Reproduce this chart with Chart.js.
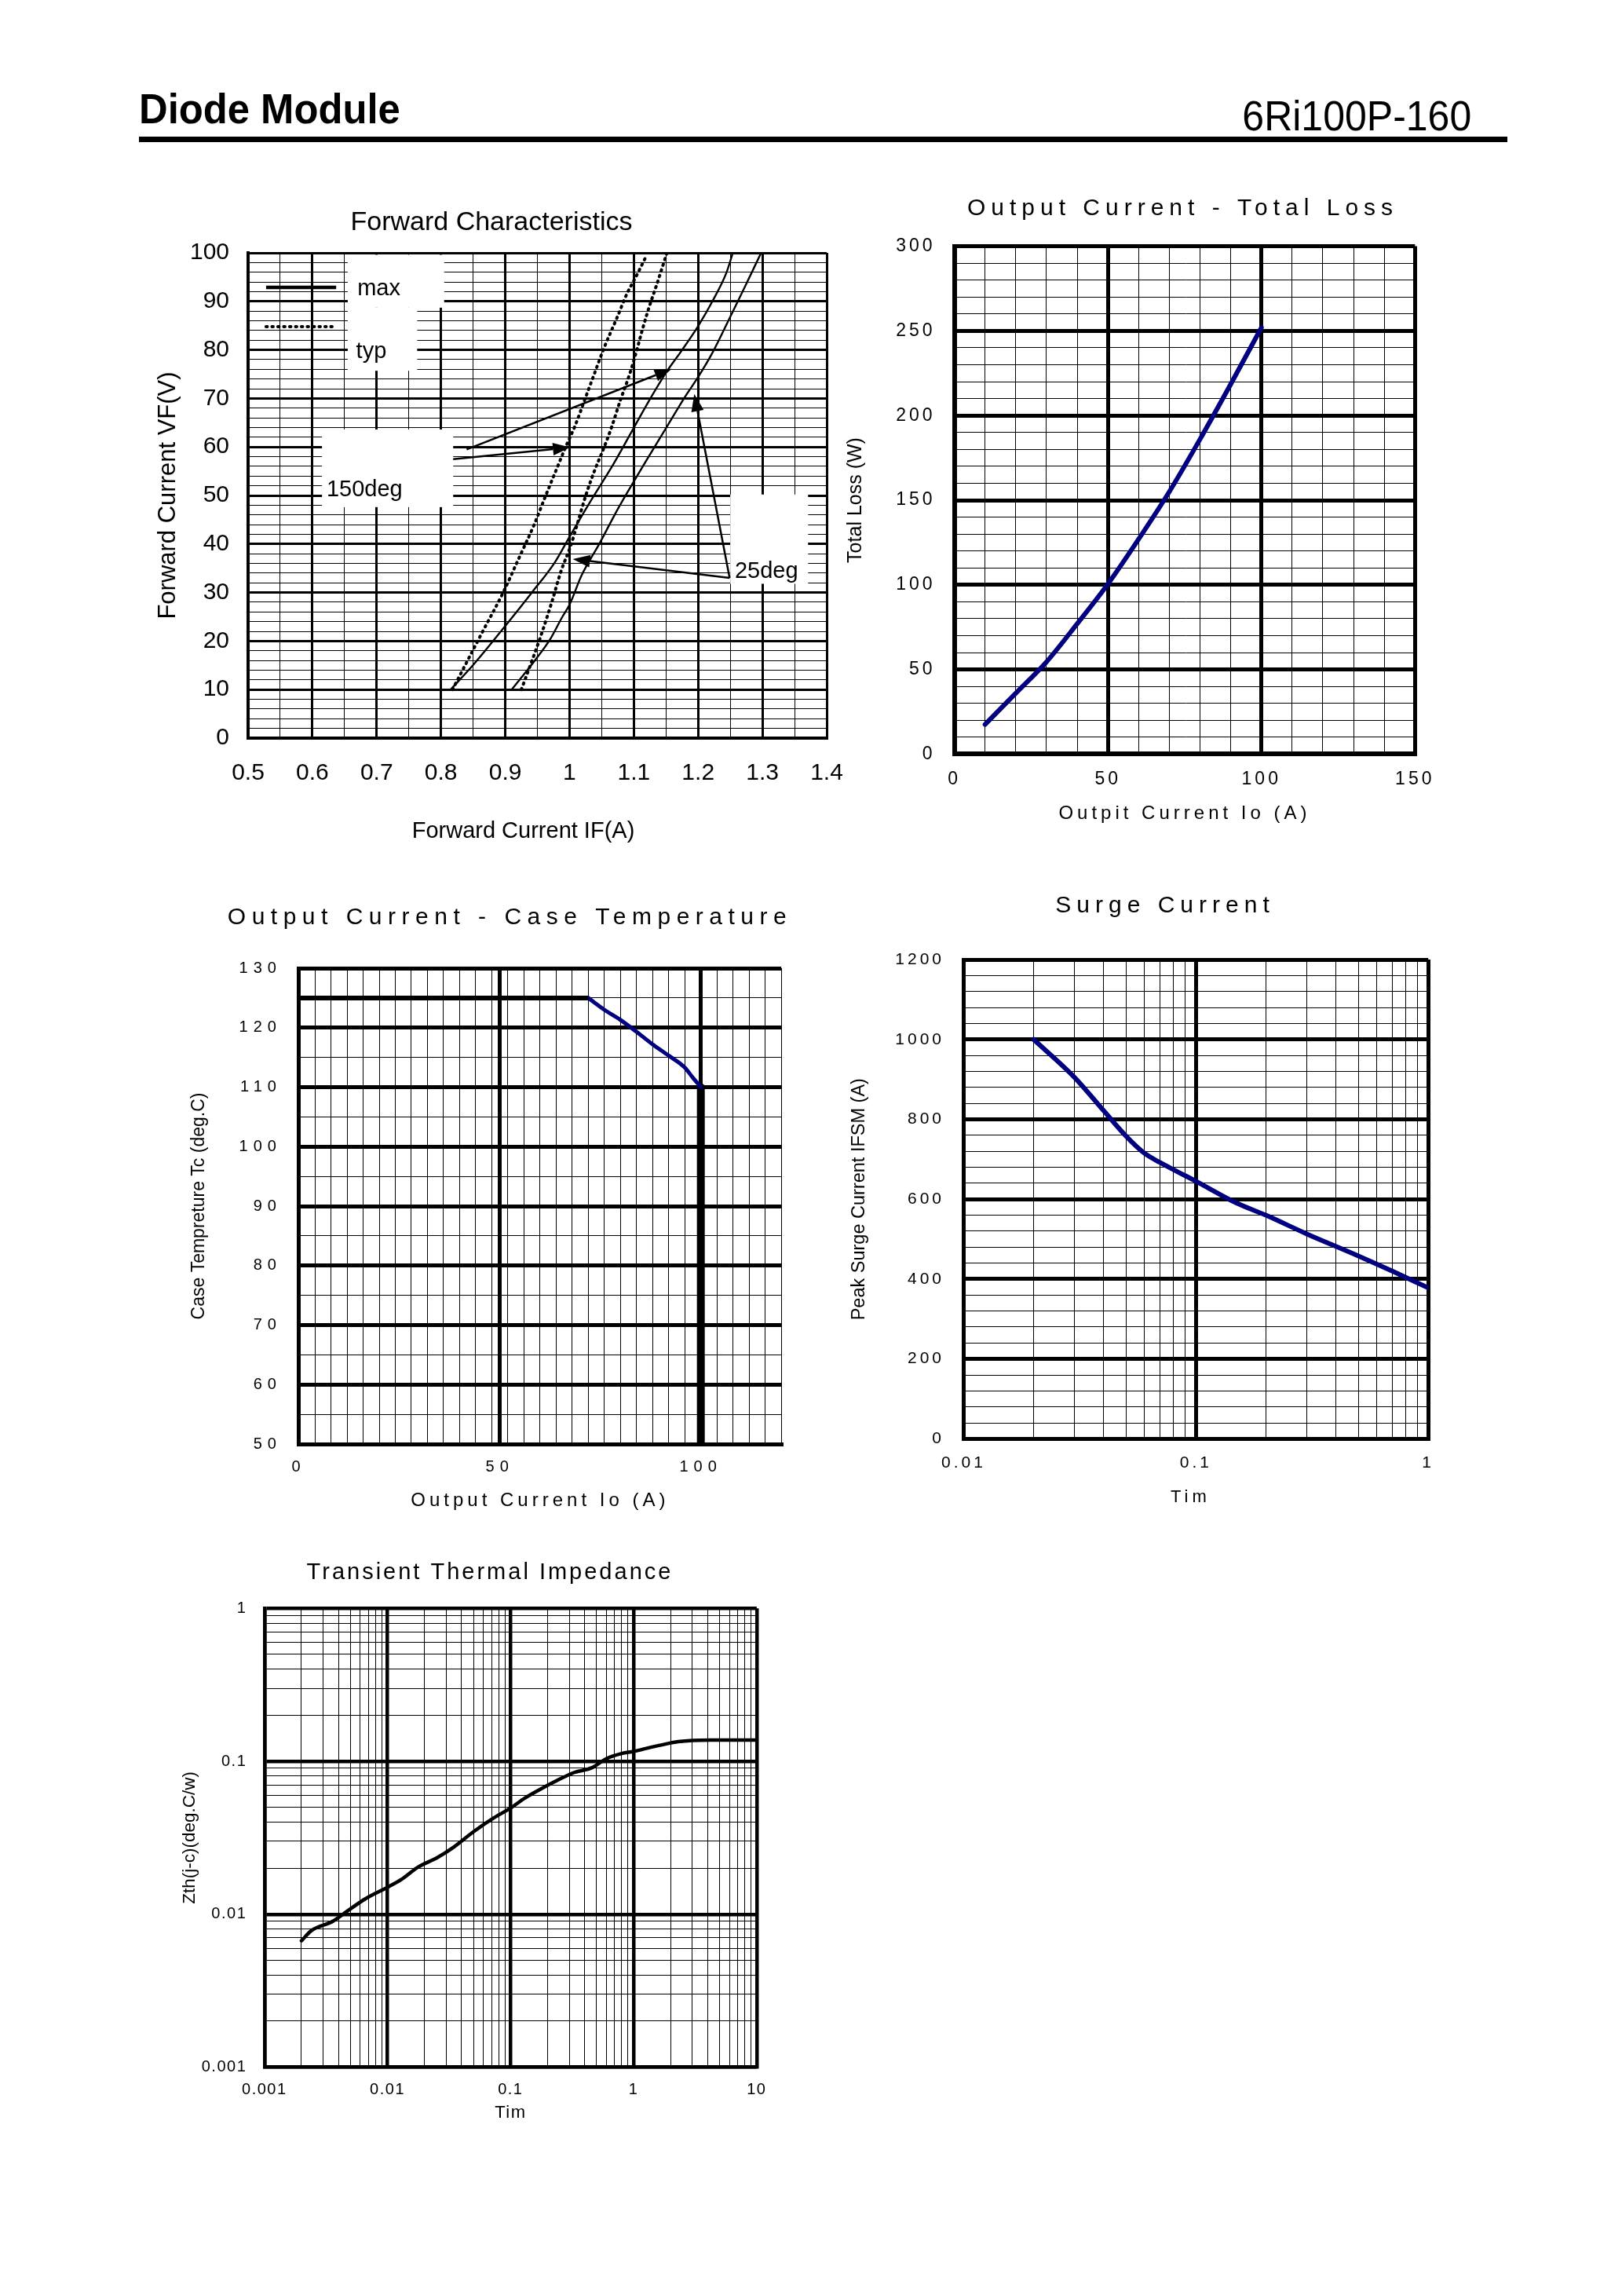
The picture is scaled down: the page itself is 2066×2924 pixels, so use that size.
<!DOCTYPE html>
<html>
<head>
<meta charset="utf-8">
<script src="https://cdn.jsdelivr.net/npm/chart.js"></script>
<style>
  body { margin: 0; width: 2066px; height: 2924px; background: #fff; position: relative; font-family: 'Liberation Sans', Arial, sans-serif; }
  .head { position: absolute; font-size: 54px; line-height: 54px; white-space: nowrap; color: #000; }
  #head-left { left: 177px; top: 111px; font-weight: bold; transform: scaleX(0.94); transform-origin: left; }
  #head-right { right: 192px; top: 120px; transform: scaleX(0.926); transform-origin: right; }
  #rule { position: absolute; left: 177px; top: 174px; width: 1743px; height: 7px; background: #000; }
  canvas { position: absolute; }
</style>
</head>
<body>
<div id="head-left" class="head">Diode Module</div>
<div id="head-right" class="head">6Ri100P-160</div>
<div id="rule"></div>
<canvas id="fwd"></canvas>
<canvas id="loss"></canvas>
<canvas id="temp"></canvas>
<canvas id="surge"></canvas>
<canvas id="zth"></canvas>
<script>
// ---- data ----
// Forward Characteristics
const fwdXLabels = ['0.5', '0.6', '0.7', '0.8', '0.9', '1', '1.1', '1.2', '1.3', '1.4'];
const fwdYLabels = ['0', '10', '20', '30', '40', '50', '60', '70', '80', '90', '100'];
const fwdMax150X = [0.815, 0.851, 0.900, 0.942, 0.977, 1.000, 1.033, 1.068, 1.096, 1.124, 1.152, 1.173, 1.200, 1.223, 1.244, 1.254];
const fwdMax150Y = [10, 15.2, 23.1, 30.1, 36.2, 41.5, 48.9, 56.4, 63.0, 69.6, 75.7, 79.6, 84.9, 90.2, 95.9, 100];
const fwdTyp150X = [0.818, 0.865, 0.896, 0.921, 0.945, 0.963, 0.980, 0.994, 1.009, 1.023, 1.037, 1.054, 1.075, 1.089, 1.103, 1.120];
const fwdTyp150Y = [10, 22, 29.8, 37, 44, 50, 55.5, 60, 64.5, 69.5, 74.5, 80.5, 87, 91.5, 95, 99.5];
const fwdMax25X = [0.910, 0.949, 0.970, 0.988, 1.000, 1.019, 1.047, 1.075, 1.100, 1.124, 1.152, 1.180, 1.200, 1.223, 1.251, 1.272, 1.298];
const fwdMax25Y = [10, 16.5, 20.4, 24.8, 27.5, 33.6, 40.2, 47.2, 52.9, 58.2, 64.3, 70.4, 74.4, 79.6, 87.1, 92.8, 100];
const fwdTyp25X = [0.925, 0.942, 0.956, 0.973, 0.987, 1.002, 1.012, 1.026, 1.040, 1.051, 1.065, 1.079, 1.093, 1.103, 1.114, 1.124, 1.135, 1.151];
const fwdTyp25Y = [10, 16.1, 21.3, 28.3, 34.5, 39.7, 44.1, 50.3, 55.5, 59, 63.9, 69.6, 74.8, 79.2, 84.5, 88.9, 93.2, 99.8];
// key samples, label boxes and arrows, in axis units
const fwdKeyX = [0.528, 0.637];
const fwdKeyY = { max: 92.9, typ: 84.8 };
const fwdMasks = [[0.655, 0.805, 88.7, 99.6], [0.655, 0.763, 75.7, 88.7], [0.615, 0.819, 47.6, 63.6], [1.25, 1.371, 31.8, 50.2]];
const fwdLabels = [['max', 0.670, 92.6], ['typ', 0.668, 79.6], ['150deg', 0.622, 51.1], ['25deg', 1.257, 34.3]];
const fwdArrows = [[0.840, 59.5, 1.159, 76.1], [0.819, 57.5, 1.001, 59.9], [1.249, 33.0, 1.005, 36.9], [1.249, 33.0, 1.194, 70.9]];

// Output Current - Total Loss
const lossXLabels = ['0', '50', '100', '150'];
const lossYLabels = ['0', '50', '100', '150', '200', '250', '300'];
const lossCurrent = [10, 20, 30, 40, 50, 60, 70, 80, 90, 100];
const lossWatts = [17.5, 36, 54.5, 77, 100.5, 127, 155, 186, 218.5, 252];

// Output Current - Case Temperature
const tempXLabels = ['0', '50', '100'];
const tempYLabels = ['50', '60', '70', '80', '90', '100', '110', '120', '130'];
const tempFlatX = [0, 72];
const tempFlatY = [125, 125];
const tempCurveX = [72, 76, 80, 84, 88, 92, 96, 98, 100];
const tempCurveY = [125, 123, 121.3, 119.3, 117.2, 115.3, 113.3, 111.6, 110];
const tempDropX = [100, 100];
const tempDropY = [110, 50];

// Surge Current
const surgeXLabels = ['0.01', '0.1', '1'];
const surgeYLabels = ['0', '200', '400', '600', '800', '1000', '1200'];
const surgeTime = [0.02, 0.03, 0.04, 0.05, 0.06, 0.07, 0.08, 0.1, 0.15, 0.2, 0.3, 0.5, 0.7, 1];
const surgeAmps = [1000, 905, 822, 758, 715, 692, 674, 645, 590, 560, 513, 458, 420, 378];

// Transient Thermal Impedance
const zthXLabels = ['0.001', '0.01', '0.1', '1', '10'];
const zthYLabels = ['0.001', '0.01', '0.1', '1'];
const zthTime = [0.002, 0.0024, 0.0036, 0.0045, 0.0066, 0.01, 0.013, 0.0175, 0.0255, 0.034, 0.05, 0.073, 0.1, 0.13, 0.18, 0.24, 0.33, 0.46, 0.6, 0.8, 1, 1.25, 1.7, 2.3, 4.2, 10];
const zthValue = [0.0067, 0.0078, 0.009, 0.0102, 0.0126, 0.015, 0.0169, 0.0202, 0.0235, 0.0272, 0.0346, 0.0426, 0.0494, 0.0573, 0.0665, 0.075, 0.0845, 0.0908, 0.104, 0.1124, 0.1159, 0.121, 0.128, 0.1344, 0.1377, 0.1377];

// ---- helpers ----
Chart.defaults.font.family = "'Liberation Sans', Arial, Helvetica, sans-serif";
Chart.defaults.color = '#000';
const NAVY = '#000080';

function steps(min, max, step) {
  const out = [];
  const n = Math.round((max - min) / step);
  for (let i = 0; i <= n; i++) out.push(+(min + i * step).toFixed(6));
  return out;
}
function logSteps(min, max) {
  const out = [];
  for (let e = Math.round(Math.log10(min)); e < Math.round(Math.log10(max)); e++) {
    for (let k = 1; k < 10; k++) out.push(+(k * Math.pow(10, e)).toPrecision(6));
  }
  out.push(max);
  return out;
}
function labelFor(v, labels) {
  const t = labels.find(s => Math.abs(parseFloat(s) - v) <= 1e-9 + 1e-6 * Math.abs(v));
  return t === undefined ? '' : t;
}
function line(xs, ys, color, width, more) {
  return Object.assign({
    data: xs.map((x, i) => ({ x, y: ys[i] })),
    showLine: true, pointRadius: 0,
    borderColor: color, backgroundColor: color, borderWidth: width,
    borderCapStyle: 'round', borderJoinStyle: 'round',
    cubicInterpolationMode: 'monotone'
  }, more);
}

// canvas letter spacing (the sheet uses wide tracking on several charts),
// plus an optional sideways nudge
function spaced(obj, name, px, dx) {
  if (!obj || obj['__ls' + name]) return;
  const orig = obj[name];
  obj[name] = function () {
    const ctx = this.ctx;
    ctx.save();
    ctx.letterSpacing = (px || 0) + 'px';
    if (dx) ctx.translate(dx, 0);
    const r = orig.apply(this, arguments);
    ctx.restore();
    return r;
  };
  obj['__ls' + name] = true;
}
const spacing = {
  id: 'spacing',
  afterLayout(chart, args, o) {
    spaced(chart.titleBlock, 'draw', o.title);
    spaced(chart.scales.x, 'drawLabels', o.ticks);
    spaced(chart.scales.y, 'drawLabels', o.ticks);
    spaced(chart.scales.x, 'drawTitle', o.xTitle, o.xShift);
  }
};

// size and place a canvas so the plot area lands where it is on the sheet
function place(id, fr) {
  const [L, T, R, B] = fr.area;
  const yLine = fr.yTitle.size * 1.2;
  let left = Math.round(fr.yTitle.cx - yLine / 2 - 6);
  let right = Math.round(2 * fr.title.cx - left);
  if (right < R + 55) { right = Math.round(R + 55); left = Math.round(2 * fr.title.cx - right); }
  const tLine = fr.title.size * 1.2;
  const top = Math.round(fr.title.cy - 10 - tLine / 2);
  const bottom = Math.round(fr.xTitle.cy + fr.xTitle.size * 0.6);
  const cv = document.getElementById(id);
  cv.width = right - left;
  cv.height = bottom - top;
  cv.style.left = left + 'px';
  cv.style.top = top + 'px';
  const padTop = fr.title.cy - tLine / 2 - top;
  return {
    titlePad: { top: padTop, bottom: T - top - tLine - padTop },
    yWidth: L - left,
    yTitlePad: fr.yTitle.cx - left - yLine / 2,
    xHeight: bottom - B,
    rightWidth: right - R
  };
}

function build(id, fr, xs, ys, datasets, extra) {
  const g = place(id, fr);
  const axis = (s, pos, fit, pad, title, tPad) => ({
    type: s.type || 'linear', position: pos, min: s.min, max: s.max,
    afterBuildTicks: sc => { sc.ticks = s.values.map(v => ({ value: v, strong: labelFor(v, s.labels) !== '' })); },
    afterFit: fit,
    grid: { color: '#000', drawTicks: false, lineWidth: c => (c.tick && c.tick.strong ? fr.thick : 1) },
    border: { display: true, color: '#000', width: fr.edge },
    ticks: { font: { size: fr.tick.size }, padding: pad, autoSkip: false, maxRotation: 0, minRotation: 0,
             callback: v => labelFor(v, s.labels) },
    title: { display: true, text: title.text, font: { size: title.size, lineHeight: 1.2 }, padding: tPad }
  });
  return new Chart(document.getElementById(id), {
    type: 'scatter',
    data: { datasets },
    options: {
      responsive: false, animation: false, events: [],
      plugins: {
        legend: { display: false },
        tooltip: { enabled: false },
        title: { display: true, text: fr.title.text, font: { size: fr.title.size, weight: 'normal', lineHeight: 1.2 }, padding: g.titlePad },
        spacing: { title: fr.title.ls, ticks: fr.tick.ls, xTitle: fr.xTitle.ls, xShift: fr.xTitle.dx || 0 }
      },
      scales: {
        x: axis(xs, 'bottom', sc => { sc.height = g.xHeight; }, fr.tick.xPad, fr.xTitle, { top: 0, bottom: 0 }),
        y: axis(ys, 'left', sc => { sc.width = g.yWidth; }, fr.tick.yPad, fr.yTitle, { top: g.yTitlePad, bottom: 0 }),
        gap: { type: 'linear', position: 'right', grid: { display: false }, border: { display: false },
               ticks: { display: false }, afterFit: sc => { sc.width = g.rightWidth; } }
      }
    },
    plugins: [spacing].concat(extra || [])
  });
}

// label boxes, notes and arrows on the forward chart
const fwdNotes = {
  id: 'fwdNotes',
  beforeDatasetsDraw(chart) {
    const { ctx, scales: { x, y } } = chart;
    ctx.save();
    ctx.fillStyle = '#fff';
    fwdMasks.forEach(([x0, x1, y0, y1]) => {
      const l = x.getPixelForValue(x0), r = x.getPixelForValue(x1);
      const t = y.getPixelForValue(y1), b = y.getPixelForValue(y0);
      ctx.fillRect(l, t, r - l, b - t);
    });
    ctx.restore();
  },
  afterDatasetsDraw(chart) {
    const { ctx, scales: { x, y } } = chart;
    ctx.save();
    ctx.fillStyle = '#000';
    ctx.strokeStyle = '#000';
    ctx.font = "29px 'Liberation Sans', Arial, sans-serif";
    ctx.textBaseline = 'middle';
    fwdLabels.forEach(([text, vx, vy]) => ctx.fillText(text, x.getPixelForValue(vx), y.getPixelForValue(vy)));
    ctx.lineWidth = 2.5;
    fwdArrows.forEach(([x0, y0, x1, y1]) => {
      const ax = x.getPixelForValue(x0), ay = y.getPixelForValue(y0);
      const bx = x.getPixelForValue(x1), by = y.getPixelForValue(y1);
      const a = Math.atan2(by - ay, bx - ax);
      const hx = bx - 22 * Math.cos(a), hy = by - 22 * Math.sin(a);
      ctx.beginPath(); ctx.moveTo(ax, ay); ctx.lineTo(hx, hy); ctx.stroke();
      ctx.beginPath();
      ctx.moveTo(bx, by);
      ctx.lineTo(hx + 8 * Math.sin(a), hy - 8 * Math.cos(a));
      ctx.lineTo(hx - 8 * Math.sin(a), hy + 8 * Math.cos(a));
      ctx.closePath(); ctx.fill();
    });
    ctx.restore();
  }
};

const dotted = { borderDash: [1.5, 6], borderCapStyle: 'round' };

// ---- charts ----
build('fwd', {
  area: [316, 322, 1053, 940],
  title: { text: 'Forward Characteristics', size: 34, cx: 626, cy: 283.6, ls: 0 },
  xTitle: { text: 'Forward Current IF(A)', size: 29, cy: 1059, ls: 0, dx: -18 },
  yTitle: { text: 'Forward Current VF(V)', size: 31, cx: 214 },
  tick: { size: 30, ls: 0, xPad: 27, yPad: 24 },
  edge: 4, thick: 3
},
{ min: 0.5, max: 1.4, values: steps(0.5, 1.4, 0.05), labels: fwdXLabels },
{ min: 0, max: 100, values: steps(0, 100, 2), labels: fwdYLabels },
[
  line(fwdKeyX, [fwdKeyY.max, fwdKeyY.max], '#000', 4.5, { borderCapStyle: 'butt' }),
  line(fwdKeyX, [fwdKeyY.typ, fwdKeyY.typ], '#000', 4, dotted),
  line(fwdMax150X, fwdMax150Y, '#000', 2.4),
  line(fwdTyp150X, fwdTyp150Y, '#000', 4, dotted),
  line(fwdMax25X, fwdMax25Y, '#000', 2.4),
  line(fwdTyp25X, fwdTyp25Y, '#000', 4, dotted)
], [fwdNotes]);

build('loss', {
  area: [1215.6, 313.6, 1802.3, 960.4],
  title: { text: 'Output Current - Total Loss', size: 30, cx: 1506.5, cy: 266, ls: 7 },
  xTitle: { text: 'Outpit Current Io (A)', size: 24, cy: 1037, ls: 5 },
  yTitle: { text: 'Total Loss (W)', size: 25, cx: 1090.6 },
  tick: { size: 23, ls: 4, xPad: 18.2, yPad: 24 },
  edge: 6, thick: 5
},
{ min: 0, max: 150, values: steps(0, 150, 10), labels: lossXLabels },
{ min: 0, max: 300, values: steps(0, 300, 10), labels: lossYLabels },
[line(lossCurrent, lossWatts, NAVY, 6)]);

build('temp', {
  area: [380.6, 1233, 995.1, 1839],
  title: { text: 'Output Current - Case Temperature', size: 30, cx: 649.7, cy: 1169, ls: 7.5 },
  xTitle: { text: 'Output Current Io (A)', size: 24, cy: 1912, ls: 5 },
  yTitle: { text: 'Case Tempreture Tc (deg.C)', size: 23, cx: 254 },
  tick: { size: 20, ls: 7, xPad: 17.3, yPad: 21.7 },
  edge: 5, thick: 5
},
{ min: 0, max: 120, values: steps(0, 120, 4).concat([50]).sort((a, b) => a - b), labels: tempXLabels },
{ min: 50, max: 130, values: steps(50, 130, 5), labels: tempYLabels },
[
  line(tempFlatX, tempFlatY, '#000', 6, { cubicInterpolationMode: 'default', borderCapStyle: 'butt' }),
  line(tempCurveX, tempCurveY, NAVY, 5),
  line(tempDropX, tempDropY, '#000', 10, { cubicInterpolationMode: 'default', borderCapStyle: 'butt' })
]);

build('surge', {
  area: [1227.5, 1222, 1819.2, 1832.4],
  title: { text: 'Surge Current', size: 30, cx: 1483.8, cy: 1154, ls: 7 },
  xTitle: { text: 'Tim', size: 22, cy: 1906.5, ls: 5, dx: -7 },
  yTitle: { text: 'Peak Surge Current IFSM (A)', size: 23.5, cx: 1094.7 },
  tick: { size: 21, ls: 4, xPad: 18.5, yPad: 24.5 },
  edge: 5, thick: 5
},
{ type: 'logarithmic', min: 0.01, max: 1, values: logSteps(0.01, 1), labels: surgeXLabels },
{ min: 0, max: 1200, values: steps(0, 1200, 40), labels: surgeYLabels },
[line(surgeTime, surgeAmps, NAVY, 6)]);

build('zth', {
  area: [336.8, 2048.2, 963.8, 2632.6],
  title: { text: 'Transient Thermal Impedance', size: 29, cx: 624, cy: 2003, ls: 3 },
  xTitle: { text: 'Tim', size: 22, cy: 2690.5, ls: 1.5 },
  yTitle: { text: 'Zth(j-c)(deg.C/w)', size: 22.5, cx: 241.8 },
  tick: { size: 20, ls: 1.5, xPad: 17, yPad: 22.5 },
  edge: 4.5, thick: 4.5
},
{ type: 'logarithmic', min: 0.001, max: 10, values: logSteps(0.001, 10), labels: zthXLabels },
{ type: 'logarithmic', min: 0.001, max: 1, values: logSteps(0.001, 1), labels: zthYLabels },
[line(zthTime, zthValue, '#000', 4.5)]);
</script>
</body>
</html>
